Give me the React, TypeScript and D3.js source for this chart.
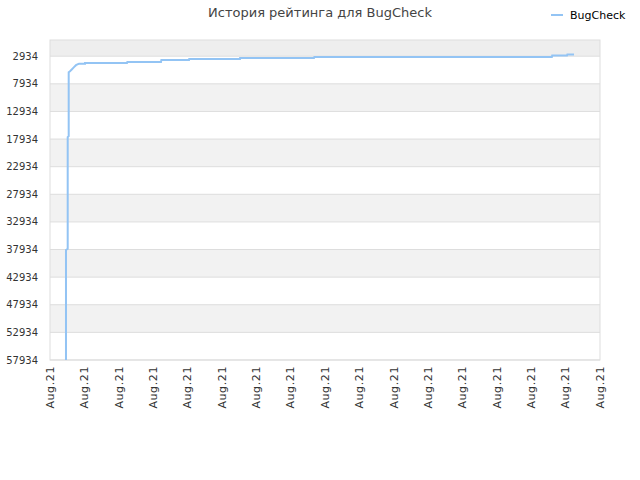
import * as d3 from "d3";

const title = "История рейтинга для BugCheck";
const seriesName = "BugCheck";

// x positions in tick units (0..16), rating values
const pointT = [
  0.465, 0.465, 0.515, 0.515, 0.544, 0.544, 0.582, 0.64, 0.698, 0.756, 0.815,
  0.844, 1.018, 1.018, 2.24, 2.25, 3.229, 3.24, 4.044, 4.05, 5.527, 5.53, 7.68,
  7.69, 14.6, 14.61, 15.04, 15.05, 15.244,
];
const pointRank = [
  57934, 38030, 37800, 17590, 17400, 5830, 5650, 5290, 4920, 4560, 4380, 4300,
  4300, 4146, 4146, 3965, 3965, 3603, 3603, 3422, 3422, 3240, 3240, 3080, 3080,
  2807, 2807, 2627, 2627,
];

const xTickLabels = Array.from({ length: 17 }, () => "Aug.21");
const yTicks = [2934, 7934, 12934, 17934, 22934, 27934, 32934, 37934, 42934, 47934, 52934, 57934];

const width = 640;
const height = 480;
const margin = { top: 40, right: 40, bottom: 120, left: 50 };
const lineColor = "#93c4f4";

export default function App() {
  const x = d3
    .scaleLinear()
    .domain([0, xTickLabels.length - 1])
    .range([margin.left, width - margin.right]);
  const y = d3
    .scaleLinear()
    .domain([1, 57934])
    .range([margin.top, height - margin.bottom]);

  const line = d3
    .line<number>()
    .x((_, i) => x(pointT[i]))
    .y((d) => y(d));

  // bands between ticks, top band from domain start to first tick
  const bandEdges = [1, ...yTicks];
  const bands = bandEdges.slice(0, -1).map((v, i) => ({
    y0: y(v),
    y1: y(bandEdges[i + 1]),
    fill: i === 0 ? "#eeeeee" : i % 2 === 0 ? "#f2f2f2" : "#ffffff",
  }));

  return (
    <svg
      width={width}
      height={height}
      style={{ position: "absolute", left: 0, top: 0, fontFamily: "DejaVu Sans" }}
    >
      <rect width={width} height={height} fill="#fff" />
      {bands.map((b, i) => (
        <rect
          key={i}
          x={margin.left}
          y={b.y0}
          width={width - margin.left - margin.right}
          height={b.y1 - b.y0}
          fill={b.fill}
        />
      ))}
      {yTicks.map((t) => (
        <line
          key={t}
          x1={margin.left}
          x2={width - margin.right}
          y1={y(t)}
          y2={y(t)}
          stroke="#dddddd"
        />
      ))}
      <rect
        x={margin.left}
        y={margin.top}
        width={width - margin.left - margin.right}
        height={height - margin.top - margin.bottom}
        fill="none"
        stroke="#dddddd"
      />
      {yTicks.map((t) => (
        <text
          key={t}
          x={margin.left - 12}
          y={y(t)}
          dy="0.35em"
          textAnchor="end"
          fontSize={10}
          fill="#333"
        >
          {t}
        </text>
      ))}
      {xTickLabels.map((label, i) => (
        <text
          key={i}
          transform={`translate(${x(i)},${height - margin.bottom + 6}) rotate(-90)`}
          dy="0.35em"
          textAnchor="end"
          fontSize={11}
          fill="#333"
          letterSpacing={0.6}
        >
          {label}
        </text>
      ))}
      <path d={line(pointRank) ?? ""} fill="none" stroke={lineColor} strokeWidth={2} />
      <text x={320} y={17} textAnchor="middle" fontSize={13} fill="#444">
        {title}
      </text>
      <line x1={551} x2={563} y1={15} y2={15} stroke={lineColor} strokeWidth={2} />
      <text x={570} y={15} dy="0.35em" fontSize={11} fill="#000">
        {seriesName}
      </text>
    </svg>
  );
}
